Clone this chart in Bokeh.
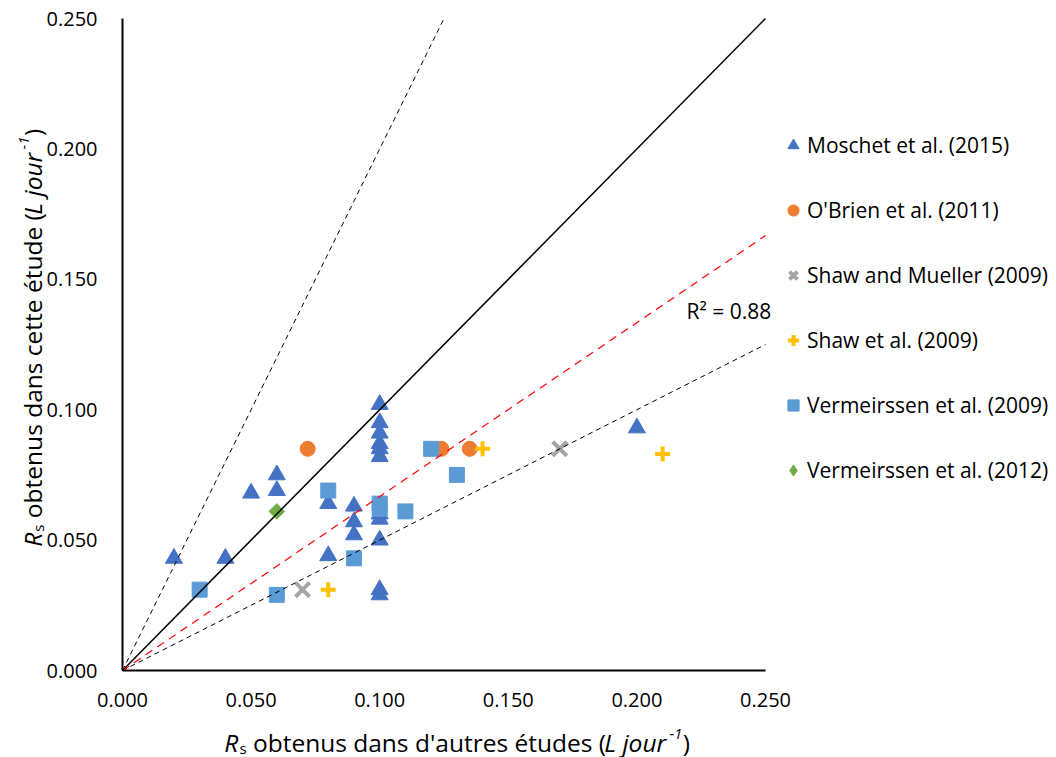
import math
from bokeh.plotting import figure
from bokeh.models import Range1d, FixedTicker, NumeralTickFormatter, Legend, LegendItem, Label
from bokeh.embed import file_html
from bokeh.resources import INLINE

FONT = "Open Sans"

# ---------------- data ----------------
moschet_x = [0.02, 0.04, 0.05, 0.06, 0.06, 0.08, 0.08, 0.09, 0.09, 0.09,
             0.10, 0.10, 0.10, 0.10, 0.10, 0.10, 0.10, 0.10, 0.10, 0.10, 0.10, 0.20]
moschet_y = [0.043, 0.043, 0.068, 0.075, 0.069, 0.064, 0.044, 0.063, 0.057, 0.052,
             0.102, 0.095, 0.091, 0.087, 0.085, 0.082, 0.060, 0.058, 0.050, 0.031, 0.029, 0.093]

obrien_x = [0.072, 0.124, 0.135]
obrien_y = [0.085, 0.085, 0.085]

shaw_mueller_x = [0.07, 0.17]
shaw_mueller_y = [0.031, 0.085]

shaw_x = [0.08, 0.14, 0.21]
shaw_y = [0.031, 0.085, 0.083]

verm2009_x = [0.03, 0.06, 0.08, 0.09, 0.10, 0.10, 0.11, 0.12, 0.13]
verm2009_y = [0.031, 0.029, 0.069, 0.043, 0.064, 0.062, 0.061, 0.085, 0.075]

verm2012_x = [0.06]
verm2012_y = [0.061]

series_names = ["Moschet et al. (2015)", "O'Brien et al. (2011)", "Shaw and Mueller (2009)",
                "Shaw et al. (2009)", "Vermeirssen et al. (2009)", "Vermeirssen et al. (2012)"]

tick_values = [0.0, 0.05, 0.10, 0.15, 0.20, 0.25]
axis_max = 0.25

ref_slopes = [2.0, 1.0, 0.5]      # 2:1, 1:1, 1:2 lines
fit_slope = 0.667                 # regression through origin
r2_text = "R² = 0.88"
r2_pos = (0.2193, 0.138)

# ---------------- layout (pixels) ----------------
W_PX, H_PX = 1056, 757
PLOT_L, PLOT_R, PLOT_T, PLOT_B = 122, 765, 18, 670
kx = (PLOT_R - PLOT_L) / axis_max
ky = (PLOT_B - PLOT_T) / axis_max
x_range = Range1d(-PLOT_L / kx, (W_PX - PLOT_L) / kx)
y_range = Range1d(-(H_PX - PLOT_B) / ky, PLOT_B / ky)

p = figure(width=W_PX, height=H_PX, output_backend="svg", toolbar_location=None,
           x_range=x_range, y_range=y_range, min_border=0)
p.outline_line_color = None
p.grid.visible = False
p.background_fill_color = "white"
p.border_fill_color = "white"

for ax in (p.xaxis[0], p.yaxis[0]):
    ax.fixed_location = 0
    ax.bounds = (0, axis_max)
    ax.ticker = FixedTicker(ticks=tick_values)
    ax.formatter = NumeralTickFormatter(format="0.000")
    ax.major_tick_line_color = None
    ax.minor_tick_line_color = None
    ax.major_tick_out = 0
    ax.major_tick_in = 0
    ax.axis_line_color = "black"
    ax.axis_line_width = 2
    ax.major_label_text_font = FONT
    ax.major_label_text_font_size = "20px"
    ax.major_label_text_color = "black"
p.yaxis[0].major_label_standoff = 25
p.xaxis[0].major_label_standoff = 22

# ---------------- markers ----------------
r_m = p.scatter(moschet_x, moschet_y, marker="triangle", size=17,
                fill_color="#4472C4", line_color="#4472C4")
r_o = p.scatter(obrien_x, obrien_y, marker="circle", size=15,
                fill_color="#ED7D31", line_color="#ED7D31")
r_sm = p.scatter(shaw_mueller_x, shaw_mueller_y, marker="x", size=20,
                 line_color="#A5A5A5", line_width=4)
r_s = p.scatter(shaw_x, shaw_y, marker="cross", size=15,
                line_color="#FFC000", line_width=4)
r_v9 = p.scatter(verm2009_x, verm2009_y, marker="square", size=15,
                 fill_color="#5B9BD5", line_color="#5B9BD5")
# legend proxy for the diamond (legend glyphs ignore marker rotation); hidden under the rotated square
r_v12_leg = p.scatter(verm2012_x, verm2012_y, marker="diamond", size=13,
                      fill_color="#70AD47", line_color="#70AD47")
r_v12 = p.scatter(verm2012_x, verm2012_y, marker="square", size=11, angle=math.pi / 4,
                  fill_color="#70AD47", line_color="#70AD47")

# ---------------- lines ----------------
for s in ref_slopes:
    xe = min(axis_max, axis_max / s)
    if s == 1.0:
        p.line([0, xe], [0, s * xe], line_color="black", line_width=1.5)
    else:
        p.line([0, xe], [0, s * xe], line_color="black", line_width=1, line_dash="5 4")
xe = min(axis_max, axis_max / fit_slope)
p.line([0, xe], [0, fit_slope * xe], line_color="#FF0000", line_width=1.2, line_dash="8 6")

p.add_layout(Label(x=r2_pos[0], y=r2_pos[1], text=r2_text, text_font=FONT, text_font_size="21px",
                   text_baseline="middle", text_align="left", text_color="black"))

# ---------------- legend ----------------
legend = Legend(items=[LegendItem(label=n, renderers=[r]) for n, r in
                       zip(series_names, [r_m, r_o, r_sm, r_s, r_v9, r_v12_leg])],
                location=(779, H_PX - 485), orientation="vertical",
                glyph_width=28, glyph_height=30, label_height=30, spacing=35,
                padding=0, margin=0, label_standoff=-2,
                border_line_color=None, background_fill_alpha=0,
                label_text_font=FONT, label_text_font_size="21px", label_text_color="black")
p.add_layout(legend)

# ---------------- axis titles (rich text pieces) ----------------
W = {' ': 532, 'o': 1237, 'b': 1255, 't': 705, 'e': 1149, 'n': 1257, 'u': 1257, 's': 977,
     'd': 1255, 'a': 1139, "'": 391, 'r': 836, 'é': 1149, '(': 578, ')': 578, 'c': 975,
     'R': 1266, 'L': 1063, 'j': 518, '-': 659, '1': 1171}


def tw(text, size):
    return sum(W.get(c, 1100) for c in text) * size / 2048.0


def place(pieces, center, base, rotated):
    total = sum(tw(t, s) for t, s, _, _ in pieces)
    cum = center - total / 2.0
    for t, s, ital, dy in pieces:
        lead = len(t) - len(t.lstrip(" "))
        shown = t.lstrip(" ")
        start = cum + tw(" " * lead, s)
        if rotated:
            lab = Label(x=base - dy, y=start, angle=math.pi / 2)
        else:
            lab = Label(x=start, y=base + dy)
        lab.x_units = "screen"
        lab.y_units = "screen"
        lab.text = shown
        lab.text_font = FONT
        lab.text_font_size = f"{s}px"
        lab.text_font_style = "italic" if ital else "normal"
        lab.text_baseline = "alphabetic"
        lab.text_align = "left"
        lab.text_color = "black"
        p.add_layout(lab)
        cum += tw(t, s)


TS, SS = 24.5, 15
x_title = [("R", TS, True, 0), ("s", SS, False, -5), (" obtenus dans d'autres études (", TS, False, 0),
           ("L jour", TS, True, 0), ("-1", SS, True, 9), (")", TS, False, 0)]
y_title = [("R", TS, True, 0), ("s", SS, False, -5), (" obtenus dans cette étude (", TS, False, 0),
           ("L jour", TS, True, 0), ("-1", SS, True, 9), (")", TS, False, 0)]

place(x_title, 456.5, H_PX - 742, False)
place(y_title, H_PX - 337.5, 32, True)

open("out.html", "w").write(file_html(p, INLINE))
